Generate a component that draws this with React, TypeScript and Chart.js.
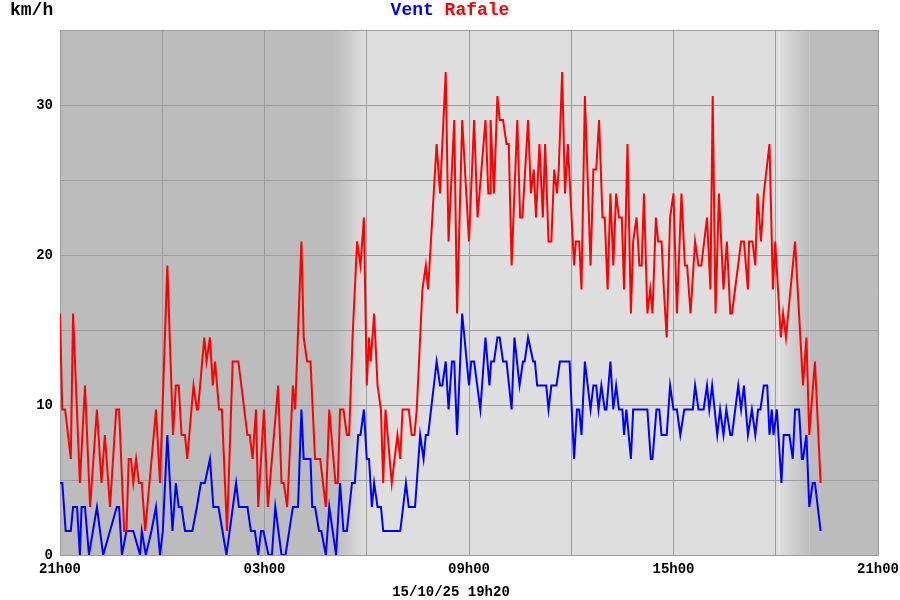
import React, { useEffect, useRef } from "react";
import { Chart, registerables } from "chart.js";

Chart.register(...registerables);

// minutes since 21h00 (15/10 evening) and speeds in km/h
const RAFALE_T = [0, 4, 9, 19, 23, 35, 44, 53, 65, 73, 79, 88, 99, 104, 113, 117, 121, 125, 129, 134, 139, 144, 150, 169, 176, 189, 199, 204, 209, 214, 220, 224, 235, 241, 243, 254, 258, 264, 269, 273, 280, 285, 294, 304, 314, 330, 334, 339, 345, 349, 359, 366, 384, 390, 394, 400, 410, 414, 425, 429, 435, 441, 449, 458, 468, 474, 485, 489, 493, 499, 505, 509, 515, 523, 529, 535, 540, 544, 547, 553, 559, 565, 569, 573, 584, 594, 599, 603, 614, 619, 624, 628, 638, 644, 648, 663, 669, 679, 684, 694, 699, 708, 720, 729, 735, 749, 754, 757, 758, 764, 770, 774, 780, 786, 790, 795, 805, 810, 814, 824, 829, 834, 838, 844, 850, 854, 860, 865, 870, 875, 878, 884, 889, 894, 905, 908, 914, 918, 924, 934, 939, 944, 949, 955, 959, 964, 969, 974, 979, 984, 989, 993, 999, 1005, 1009, 1015, 1020, 1024, 1028, 1034, 1039, 1043, 1049, 1053, 1059, 1063, 1068, 1074, 1080, 1086, 1094, 1100, 1104, 1110, 1118, 1124, 1129, 1139, 1145, 1149, 1154, 1160, 1168, 1174, 1180, 1183, 1199, 1204, 1211, 1213, 1219, 1224, 1228, 1234, 1239, 1249, 1255, 1259, 1269, 1273, 1278, 1294, 1308, 1314, 1319, 1329, 1339];
const RAFALE_V = [16.1, 9.7, 9.7, 6.4, 16.1, 4.8, 11.3, 3.2, 9.7, 4.8, 8.0, 3.2, 9.7, 9.7, 1.6, 1.6, 6.4, 6.4, 4.8, 6.4, 4.8, 4.8, 1.6, 9.7, 4.8, 19.3, 8.0, 11.3, 11.3, 8.0, 8.0, 6.4, 11.3, 9.7, 9.7, 14.5, 12.9, 14.5, 11.3, 12.9, 9.7, 9.7, 1.6, 12.9, 12.9, 8.0, 8.0, 6.4, 9.7, 3.2, 9.7, 3.2, 11.3, 4.8, 4.8, 3.2, 11.3, 9.7, 20.9, 14.5, 12.9, 12.9, 6.4, 6.4, 3.2, 9.7, 4.8, 4.8, 9.7, 9.7, 8.0, 8.0, 14.5, 20.9, 19.3, 22.5, 11.3, 14.5, 12.9, 16.1, 11.3, 9.7, 4.8, 9.7, 4.8, 8.0, 6.4, 9.7, 9.7, 8.0, 8.0, 9.7, 17.7, 19.3, 17.7, 27.4, 24.1, 32.2, 20.9, 29.0, 16.1, 29.0, 20.9, 29.0, 22.5, 29.0, 24.1, 24.1, 29.0, 24.1, 30.6, 29.0, 29.0, 27.4, 27.4, 19.3, 29.0, 22.5, 22.5, 29.0, 24.1, 25.7, 22.5, 27.4, 22.5, 27.4, 20.9, 20.9, 25.7, 24.1, 25.7, 32.2, 24.1, 27.4, 19.3, 20.9, 20.9, 17.7, 30.6, 19.3, 25.7, 25.7, 29.0, 22.5, 22.5, 17.7, 24.1, 19.3, 24.1, 22.5, 22.5, 17.7, 27.4, 16.1, 20.9, 22.5, 19.3, 19.3, 24.1, 16.1, 17.7, 16.1, 22.5, 20.9, 20.9, 17.7, 14.5, 22.5, 24.1, 16.1, 24.1, 19.3, 19.3, 16.1, 20.9, 19.3, 19.3, 22.5, 17.7, 30.6, 16.1, 24.1, 17.7, 20.9, 16.1, 16.1, 20.9, 20.9, 17.7, 20.9, 20.9, 19.3, 24.1, 20.9, 24.1, 27.4, 17.7, 20.9, 14.5, 16.1, 14.5, 20.9, 11.3, 14.5, 8.0, 12.9, 4.8];

const VENT_T = [0, 4, 10, 19, 23, 30, 35, 38, 44, 51, 65, 76, 100, 104, 109, 117, 129, 141, 144, 151, 161, 169, 176, 181, 189, 198, 204, 209, 214, 220, 233, 241, 248, 255, 264, 270, 279, 286, 293, 310, 315, 330, 336, 343, 349, 354, 358, 367, 373, 379, 390, 397, 410, 419, 425, 429, 441, 444, 449, 456, 460, 468, 474, 486, 493, 499, 505, 514, 519, 525, 529, 535, 540, 544, 549, 553, 559, 565, 569, 599, 609, 614, 625, 634, 640, 644, 648, 663, 669, 673, 679, 684, 690, 694, 699, 708, 720, 724, 729, 740, 749, 756, 759, 764, 770, 774, 780, 786, 795, 800, 809, 815, 818, 824, 833, 836, 840, 856, 860, 865, 874, 880, 897, 905, 910, 914, 918, 924, 934, 939, 944, 948, 953, 959, 962, 969, 974, 979, 984, 990, 993, 997, 1005, 1009, 1034, 1040, 1043, 1050, 1055, 1059, 1068, 1074, 1080, 1086, 1092, 1099, 1114, 1118, 1124, 1133, 1139, 1143, 1148, 1157, 1162, 1168, 1173, 1180, 1183, 1194, 1199, 1204, 1211, 1218, 1224, 1229, 1233, 1239, 1245, 1249, 1253, 1256, 1262, 1270, 1274, 1284, 1290, 1294, 1301, 1306, 1308, 1314, 1319, 1325, 1329, 1339];
const VENT_V = [4.8, 4.8, 1.6, 1.6, 3.2, 3.2, 0, 3.2, 3.2, 0, 3.2, 0, 3.2, 3.2, 0, 1.6, 1.6, 0, 1.6, 0, 1.6, 3.2, 0, 1.6, 8.0, 1.6, 4.8, 3.2, 3.2, 1.6, 1.6, 3.2, 4.8, 4.8, 6.4, 3.2, 3.2, 1.6, 0, 4.8, 3.2, 3.2, 1.6, 1.6, 0, 1.6, 1.6, 0, 0, 3.2, 0, 0, 3.2, 3.2, 9.7, 6.4, 6.4, 3.2, 3.2, 1.6, 1.6, 0, 3.2, 0, 4.8, 1.6, 1.6, 4.8, 4.8, 8.0, 8.0, 9.7, 6.4, 6.4, 3.2, 4.8, 3.2, 3.2, 1.6, 1.6, 4.8, 3.2, 3.2, 8.0, 6.4, 8.0, 8.0, 12.9, 11.3, 11.3, 12.9, 9.7, 12.9, 12.9, 8.0, 16.1, 11.3, 12.9, 12.9, 9.7, 14.5, 11.3, 12.9, 12.9, 14.5, 14.5, 12.9, 12.9, 9.7, 14.5, 11.3, 12.9, 12.9, 14.5, 12.9, 12.9, 11.3, 11.3, 9.7, 11.3, 11.3, 12.9, 12.9, 6.4, 9.7, 9.7, 8.0, 12.9, 9.7, 11.3, 11.3, 9.7, 11.3, 9.7, 9.7, 12.9, 9.7, 11.3, 9.7, 9.7, 8.0, 9.7, 6.4, 9.7, 9.7, 6.4, 6.4, 9.7, 9.7, 8.0, 8.0, 11.3, 9.7, 9.7, 8.0, 9.7, 9.7, 11.3, 9.7, 9.7, 11.3, 9.7, 11.3, 8.0, 9.7, 8.0, 9.7, 8.0, 8.0, 11.3, 9.7, 11.3, 8.0, 9.7, 8.0, 9.7, 9.7, 11.3, 11.3, 8.0, 9.7, 8.0, 9.7, 4.8, 8.0, 8.0, 6.4, 9.7, 9.7, 6.4, 6.4, 8.0, 3.2, 4.8, 4.8, 1.6];

const X_TICK_LABELS = ["21h00", "", "03h00", "", "09h00", "", "15h00", "", "21h00"];
const Y_TICK_LABELS = ["0", "", "10", "", "20", "", "30", ""];
const DAWN = [484, 539];
const DUSK = [1267, 1320];
const STAMP = "15/10/25 19h20";

const NIGHT = "#bcbcbc";
const DAY = "#dedede";
const MONO = "'Liberation Mono', 'Courier New', monospace";

const bgPlugin = {
  id: "daynight",
  beforeDraw(chart: any) {
    const { ctx, chartArea: a, scales } = chart;
    const x = scales.x;
    const px = (v: number) => x.getPixelForValue(v);
    ctx.save();
    ctx.fillStyle = "#ffffff";
    ctx.fillRect(0, 0, chart.width, chart.height);
    ctx.fillStyle = NIGHT;
    ctx.fillRect(a.left, a.top, px(DAWN[0]) - a.left, a.bottom - a.top);
    let g = ctx.createLinearGradient(px(DAWN[0]), 0, px(DAWN[1]), 0);
    g.addColorStop(0, NIGHT);
    g.addColorStop(1, DAY);
    ctx.fillStyle = g;
    ctx.fillRect(px(DAWN[0]), a.top, px(DAWN[1]) - px(DAWN[0]), a.bottom - a.top);
    ctx.fillStyle = DAY;
    ctx.fillRect(px(DAWN[1]), a.top, px(DUSK[0]) - px(DAWN[1]), a.bottom - a.top);
    g = ctx.createLinearGradient(px(DUSK[0]), 0, px(DUSK[1]), 0);
    g.addColorStop(0, DAY);
    g.addColorStop(1, NIGHT);
    ctx.fillStyle = g;
    ctx.fillRect(px(DUSK[0]), a.top, px(DUSK[1]) - px(DUSK[0]), a.bottom - a.top);
    ctx.fillStyle = NIGHT;
    ctx.fillRect(px(DUSK[1]), a.top, a.right - px(DUSK[1]), a.bottom - a.top);
    ctx.restore();
  },
  afterDraw(chart: any) {
    const { ctx } = chart;
    ctx.save();
    ctx.textBaseline = "middle";
    ctx.font = `bold 18px ${MONO}`;
    ctx.fillStyle = "#000000";
    ctx.textAlign = "left";
    ctx.fillText("km/h", 10, 10);
    const w1 = ctx.measureText("Vent ").width;
    const w2 = ctx.measureText("Rafale").width;
    const start = 450 - (w1 + w2) / 2;
    ctx.fillStyle = "#0000ff";
    ctx.fillText("Vent", start, 10);
    ctx.fillStyle = "#ff0000";
    ctx.fillText("Rafale", start + w1, 10);
    ctx.font = `bold 14px ${MONO}`;
    ctx.fillStyle = "#000000";
    ctx.textAlign = "center";
    ctx.fillText(STAMP, 451, 592);
    ctx.restore();
  },
};

export default function App() {
  const ref = useRef<HTMLCanvasElement>(null);
  useEffect(() => {
    if (!ref.current) return;
    const chart = new Chart(ref.current, {
      type: "line",
      data: {
        datasets: [
          {
            label: "Rafale",
            data: RAFALE_T.map((t, i) => ({ x: t, y: RAFALE_V[i] })),
            borderColor: "#ff0000",
            borderWidth: 2,
            pointRadius: 0,
            tension: 0,
            fill: false,
          },
          {
            label: "Vent",
            data: VENT_T.map((t, i) => ({ x: t, y: VENT_V[i] })),
            borderColor: "#0000ff",
            borderWidth: 2,
            pointRadius: 0,
            tension: 0,
            fill: false,
          },
        ],
      },
      options: {
        animation: false,
        responsive: false,
        layout: { padding: { left: 0, right: 22, top: 30, bottom: 0 } },
        plugins: { legend: { display: false }, title: { display: false }, tooltip: { enabled: false } },
        scales: {
          x: {
            type: "linear",
            min: 0,
            max: 1440,
            afterFit: (s: any) => { s.height = 45; s.paddingLeft = 0; s.paddingRight = 0; },
            grid: { color: "#9c9c9c", lineWidth: 1, drawTicks: false },
            border: { color: "#9c9c9c" },
            ticks: {
              stepSize: 180,
              autoSkip: false,
              maxRotation: 0,
              padding: 6,
              color: "#000000",
              font: { family: MONO, size: 14, weight: "bold" },
              callback: (v: any) => X_TICK_LABELS[Math.round(Number(v) / 180)] ?? "",
            },
          },
          y: {
            min: 0,
            max: 35,
            afterFit: (s: any) => { s.width = 60; s.paddingTop = 0; s.paddingBottom = 0; },
            grid: { color: "#9c9c9c", lineWidth: 1, drawTicks: false },
            border: { color: "#9c9c9c" },
            ticks: {
              stepSize: 5,
              padding: 7,
              color: "#000000",
              font: { family: MONO, size: 14, weight: "bold" },
              callback: (v: any) => Y_TICK_LABELS[Math.round(Number(v) / 5)] ?? "",
            },
          },
        },
      },
      plugins: [bgPlugin],
    });
    return () => chart.destroy();
  }, []);
  return (
    <canvas
      ref={ref}
      width={900}
      height={600}
      style={{ position: "absolute", left: 0, top: 0, width: 900, height: 600, display: "block" }}
    />
  );
}
